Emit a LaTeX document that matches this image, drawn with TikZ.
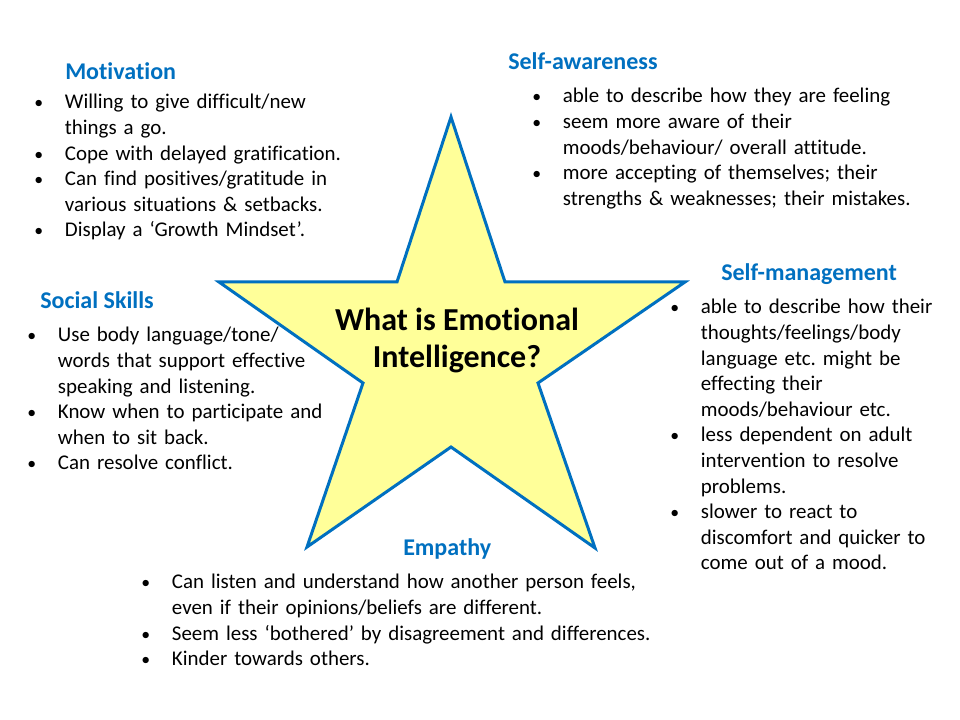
\documentclass[tikz,border=0pt]{standalone}
\usepackage{fontspec}
\setmainfont{Carlito}[Ligatures=NoCommon]
\usepackage{enumitem}
\usepackage{xcolor}
\usepackage{tikz}
\usetikzlibrary{positioning}
\frenchspacing

\definecolor{headblue}{HTML}{0070C0}
\definecolor{staryellow}{HTML}{FFFF99}

\tikzset{
	heading/.style={font=\fontsize{18}{21.6}\selectfont\bfseries, text=headblue, inner sep=0pt, anchor=west},
	points/.style={font=\fontsize{15.7}{19.2}\selectfont, inner sep=0pt, anchor=north west, text width=#1},
	startitle/.style={font=\fontsize{24}{27.75}\selectfont\bfseries, align=center, inner sep=0pt}
}
\newcommand{\pointlist}[1]{\begin{itemize}[nosep,leftmargin=23pt,labelwidth=23pt,labelsep=0pt,align=left,label=\scalebox{0.85}{\textbullet}]#1\end{itemize}}

\begin{document}
\begin{tikzpicture}[x=0.75pt,y=-0.75pt]
		\fill[white] (0,0) rectangle (960,720);
		\useasboundingbox (0,0) rectangle (960,720);
		% the star
		\coordinate (T) at (451,117);
		\coordinate (IL) at (397,282);
		\coordinate (L) at (219,282);
		\coordinate (LL) at (363,383);
		\coordinate (BL) at (307,547);
		\coordinate (IB) at (451,447);
		\coordinate (BR) at (595,548);
		\coordinate (LR) at (538,383);
		\coordinate (R) at (685,282);
		\coordinate (IR) at (505,282);
		\draw[headblue, fill=staryellow, line width=2.25pt, line join=miter]
		(T) -- (IL) -- (L) -- (LL) -- (BL) -- (IB) -- (BR) -- (LR) -- (R) -- (IR) -- cycle;
		\node[startitle] (EI) at (457,340) {What is Emotional\\Intelligence?};
		%
		% headings
		\node[heading] (Mot) at (65,71) {Motivation};
		\node[heading] (SA) at (508,61) {Self-awareness};
		\node[heading] (SM) at (721,274) {Self-management};
		\node[heading] (SS) at (40,300) {Social Skills};
		\node[heading] (Emp) at (403,549) {Empathy};
		%
		% bullet points
		\node[points=300pt] (MotP) at (34,83) {\pointlist{
			\item Willing to give difficult/new\newline things a go.
			\item Cope with delayed gratification.
			\item Can find positives/gratitude in\newline various situations \& setbacks.
			\item Display a ‘Growth Mindset’.}};
		\node[points=300pt] (SAP) at (532,77) {\pointlist{
			\item able to describe how they are feeling
			\item seem more aware of their\newline moods/behaviour/ overall attitude.
			\item more accepting of themselves; their\newline strengths \& weaknesses; their mistakes.}};
		\node[points=250pt] (SMP) at (670,288) {\pointlist{
			\item able to describe how their\newline thoughts/feelings/body\newline language etc. might be\newline effecting their\newline moods/behaviour etc.
			\item less dependent on adult\newline intervention to resolve\newline problems.
			\item slower to react to\newline discomfort and quicker to\newline come out of a mood.}};
		\node[points=300pt] (SSP) at (27,316) {\pointlist{
			\item Use body language/tone/\newline words that support effective\newline speaking and listening.
			\item Know when to participate and\newline when to sit back.
			\item Can resolve conflict.}};
		\node[points=450pt] (EmpP) at (141,563) {\pointlist{
			\item Can listen and understand how another person feels,\newline even if their opinions/beliefs are different.
			\item Seem less ‘bothered’ by disagreement and differences.
			\item Kinder towards others.}};
\end{tikzpicture}
\end{document}
